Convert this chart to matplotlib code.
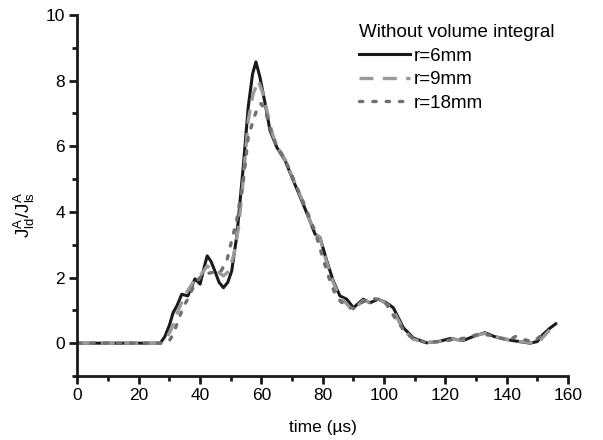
import matplotlib
matplotlib.use("Agg")
import matplotlib.pyplot as plt
from matplotlib.ticker import MultipleLocator

plt.rcParams['font.family'] = ['Liberation Sans', 'DejaVu Sans']
plt.rcParams['mathtext.fontset'] = 'custom'
plt.rcParams['mathtext.rm'] = 'Liberation Sans'
plt.rcParams['mathtext.it'] = 'Liberation Sans'

# r = 6 mm (solid black)
x6 = [0, 27, 28.5, 30, 31.2, 32.5, 34, 36, 38.3, 40, 41.3, 42.3, 43.5, 44.8, 46.2, 47.6, 49, 50.3,
      52, 54, 55.7, 57.1, 58.2, 59.5, 61.2, 62.8, 65, 67.7, 70.4, 72, 73.6, 75.8, 77.5, 79.1, 81.3,
      83.4, 85.6, 87.8, 90, 91.5, 93.2, 95.4, 98.1, 100.8, 103, 106.3, 109.5, 113.9, 118.2, 121.5,
      125.8, 129, 132.9, 136, 140, 144, 147.6, 150, 151.9, 154, 156]
y6 = [0, 0, 0.2, 0.55, 0.93, 1.15, 1.49, 1.44, 1.96, 1.8, 2.3, 2.66, 2.5, 2.2, 1.85, 1.69, 1.85, 2.2,
      3.3, 5.3, 7.2, 8.2, 8.57, 8.11, 7.3, 6.48, 5.97, 5.57, 4.95, 4.6, 4.24, 3.73, 3.32, 3.22, 2.51,
      1.9, 1.44, 1.34, 1.08, 1.2, 1.34, 1.23, 1.34, 1.23, 1.08, 0.47, 0.16, 0.01, 0.06, 0.14,
      0.08, 0.2, 0.32, 0.2, 0.11, 0.05, 0, 0.05, 0.27, 0.45, 0.59]

# r = 9 mm (gray dashed)
x9 = [0, 27, 29, 30.5, 32, 34, 36, 38, 40, 42.3, 44, 45.5, 47.6, 49.5, 51, 52.5, 54, 55.7, 57.3, 59,
      60.5, 62, 63.5, 65, 67.7, 70.4, 73.6, 75.8, 77.5, 79.1, 81.3, 83.4, 85.6, 87.8, 89.5, 91.5,
      93.2, 95.4, 97.5, 100.8, 103, 106.3, 109.5, 113.9, 118.2, 121.5, 125.8, 129, 132.9, 136, 140,
      144, 147.6, 150, 152, 154, 156]
y9 = [0, 0, 0.15, 0.4, 0.8, 1.25, 1.6, 1.9, 2.05, 2.35, 2.25, 2.2, 2.05, 2.2, 2.7, 3.5, 4.9, 6.8, 7.6,
      8.0, 7.6, 7.0, 6.4, 6.0, 5.6, 5.0, 4.3, 3.75, 3.35, 3.2, 2.45, 1.85, 1.4, 1.2, 1.0, 1.15,
      1.3, 1.25, 1.38, 1.2, 1.0, 0.4, 0.12, 0.02, 0.05, 0.12, 0.1, 0.22, 0.3, 0.2, 0.12,
      0.05, 0.02, -0.02, 0.2, 0.4, 0.55]

# r = 18 mm (dotted)
x18 = [0, 28, 30, 31.2, 32.5, 34.4, 36, 37.7, 39.5, 41, 43.8, 46.5, 48.7, 49.7, 51.9, 54.1, 55.7,
       57.3, 59, 60, 61.5, 63, 65, 67.7, 70.4, 73.6, 75.8, 77.5, 80, 82, 84, 86, 88, 90, 92, 94, 97,
       100, 102, 104, 106, 108, 110, 114, 118, 122, 126, 130, 134, 138, 141, 143, 146, 149, 152.5]
y18 = [0, 0, 0.08, 0.27, 0.6, 1.08, 1.35, 1.69, 1.95, 2.1, 2.15, 2.15, 2.5, 2.9, 3.73, 4.95, 6.28,
       6.79, 7.25, 7.3, 7.0, 6.5, 6.0, 5.6, 5.0, 4.3, 3.8, 3.4, 2.6, 2.0, 1.5, 1.25, 1.15, 1.05, 1.2,
       1.3, 1.35, 1.3, 1.0, 0.7, 0.45, 0.25, 0.1, 0.02, 0.05, 0.1, 0.15, 0.25, 0.25, 0.15, 0.1,
       0.21, 0.1, 0.05, 0.35]

labels = ['r=6mm', 'r=9mm', 'r=18mm']
legend_title = 'Without volume integral'

fig = plt.figure(figsize=(6.03, 4.40), dpi=100)
ax = fig.add_axes([0.1285, 0.1455, 0.8135, 0.8205])

ax.plot(x6, y6, color='#1a1a1a', lw=2.2, solid_joinstyle='round', label=labels[0])
ax.plot(x9, y9, color='#9a9a9a', lw=2.4, dashes=(4.2, 2.8), label=labels[1])
ax.plot(x18, y18, color='#707070', lw=2.4, dashes=(1.0, 3.0), dash_capstyle='round', label=labels[2])

ax.set_xlim(0, 160)
ax.set_ylim(-1, 10)
ax.xaxis.set_major_locator(MultipleLocator(20))
ax.xaxis.set_minor_locator(MultipleLocator(10))
ax.yaxis.set_major_locator(MultipleLocator(2))
ax.yaxis.set_minor_locator(MultipleLocator(1))

for s in ['top', 'right']:
    ax.spines[s].set_visible(False)
for s in ['left', 'bottom']:
    ax.spines[s].set_linewidth(2.0)
    ax.spines[s].set_color('#1a1a1a')

ax.tick_params(which='major', direction='out', length=6, width=2.0, color='#1a1a1a',
               labelsize=12.5, pad=3)
ax.tick_params(which='minor', direction='out', length=3.5, width=2.0, color='#1a1a1a')

ax.set_xlabel('time (µs)', fontsize=12.5)
ax.xaxis.set_label_coords(0.5, -0.122)
ax.set_ylabel(r'$\mathregular{J^A_{ld}/J^A_{ls}}$', fontsize=13.5)
ax.yaxis.set_label_coords(-0.083, 0.445)

leg = ax.legend(title=legend_title, loc='upper left', bbox_to_anchor=(0.548, 1.01),
                frameon=False, fontsize=13.5, title_fontsize=13.5, alignment='left',
                handlelength=2.7, handletextpad=0.2, labelspacing=0.34, borderpad=0.2)

fig.savefig('out.png', dpi=100)
